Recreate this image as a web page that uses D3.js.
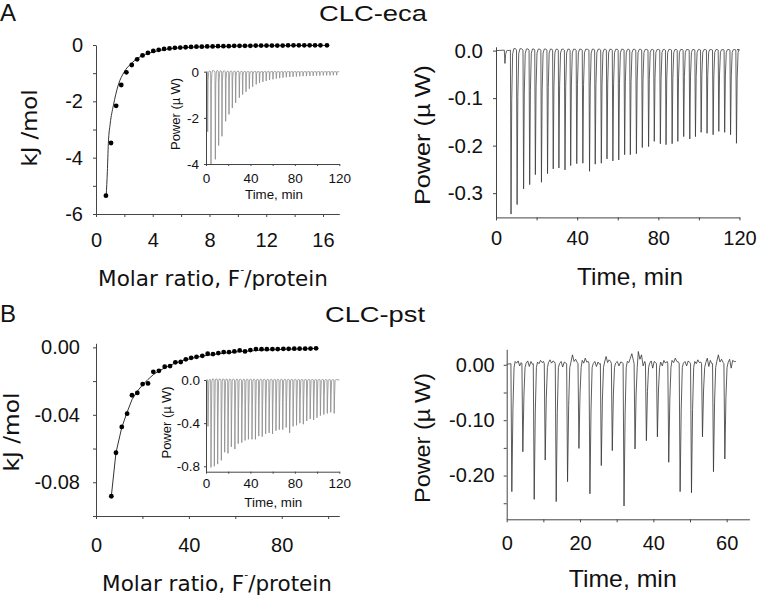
<!DOCTYPE html>
<html>
<head>
<meta charset="utf-8">
<script src="https://cdn.jsdelivr.net/npm/d3@7"></script>
<style>
  body { margin: 0; background: #fff; }
  svg { display: block; }
</style>
</head>
<body>
<div id="figure"></div>
<script>
var svgWidth = 757;
var svgHeight = 597;

// ---------- A: CLC-eca ----------
// binding isotherm (dots) and fit
var ecaRatio = [0.70, 1.06, 1.42, 1.78, 2.14, 2.52, 2.90, 3.28, 3.66, 4.04, 4.42, 4.80, 5.18, 5.56,
  5.94, 6.32, 6.70, 7.08, 7.46, 7.84, 8.22, 8.60, 8.98, 9.36, 9.74, 10.12, 10.50, 10.88, 11.26,
  11.64, 12.02, 12.40, 12.78, 13.16, 13.54, 13.92, 14.30, 14.68, 15.06, 15.44, 15.82, 16.28];
var ecaHeat = [-5.35, -3.48, -2.16, -1.42, -0.97, -0.71, -0.51, -0.37, -0.28, -0.21, -0.17, -0.14,
  -0.12, -0.10, -0.09, -0.08, -0.07, -0.06, -0.06, -0.05, -0.05, -0.04, -0.04, -0.04, -0.03, -0.03,
  -0.03, -0.03, -0.02, -0.02, -0.02, -0.02, -0.02, -0.02, -0.01, -0.01, -0.01, -0.01, -0.01, -0.01,
  -0.01, -0.01];
var ecaFitRatio = [0.72, 0.80, 0.87, 1.00, 1.22, 1.57, 1.97, 2.50, 3.00, 3.50, 4.00, 5.00, 6.00, 8.00, 10.0, 12.0, 14.0, 16.3];
var ecaFitHeat = [-5.35, -4.50, -3.50, -2.80, -2.16, -1.42, -0.97, -0.65, -0.45, -0.33, -0.25, -0.15, -0.10, -0.06, -0.04, -0.03, -0.02, -0.015];

// inset: raw power
var ecaInsetTime = [1.5, 4.5, 8.4, 11.4, 14.4, 17.7, 20.7, 23.7, 26.7, 30.0, 33.0, 36.0, 39.0, 42.0,
  45.2, 48.2, 51.2, 54.2, 57.2, 60.3, 63.3, 66.3, 69.3, 72.3, 75.4, 78.4, 81.4, 84.4, 87.4, 90.5,
  93.5, 96.5, 99.5, 102.5, 105.6, 108.6, 111.6, 114.6, 117.6];
var ecaInsetPower = [-2.6, -4.0, -3.8, -3.2, -2.8, -2.15, -1.85, -1.57, -1.35, -1.13, -0.99, -0.87,
  -0.74, -0.65, -0.55, -0.49, -0.44, -0.40, -0.36, -0.33, -0.30, -0.28, -0.26, -0.24, -0.23, -0.22,
  -0.21, -0.20, -0.19, -0.19, -0.18, -0.18, -0.17, -0.17, -0.16, -0.16, -0.16, -0.15, -0.15];

// right: power trace peaks
var ecaPeakTime = [4.4, 7.4, 10.4, 13.6, 16.6, 19.4, 22.4, 25.4, 28.2, 31.0, 34.0, 36.8, 39.8, 42.8,
  46.1, 48.9, 51.9, 54.7, 57.6, 60.5, 63.4, 66.2, 69.2, 72.1, 75.2, 78.0, 81.0, 83.8, 86.8, 89.6,
  92.5, 95.5, 98.3, 101.1, 104.0, 107.0, 109.8, 112.7, 115.6, 118.5];
var ecaPeakPower = [-0.027, -0.344, -0.324, -0.291, -0.282, -0.261, -0.277, -0.259, -0.249, -0.247,
  -0.251, -0.242, -0.238, -0.237, -0.254, -0.239, -0.237, -0.228, -0.232, -0.230, -0.219, -0.219,
  -0.217, -0.204, -0.202, -0.191, -0.196, -0.198, -0.196, -0.191, -0.181, -0.186, -0.181, -0.172,
  -0.174, -0.177, -0.170, -0.172, -0.177, -0.195];

// ---------- B: CLC-pst ----------
var pstRatio = [6.6, 8.6, 11.1, 13.4, 15.5, 17.8, 20.1, 22.4, 24.7, 27.1, 29.6, 31.9, 34.2, 36.5,
  38.7, 41.0, 43.3, 45.8, 48.1, 50.4, 52.7, 55.0, 57.3, 59.6, 61.9, 64.2, 66.5, 68.9, 71.3, 73.6,
  76.0, 78.3, 80.7, 83.0, 85.4, 87.7, 90.1, 92.4, 94.8];
var pstHeat = [-0.0883, -0.0625, -0.0472, -0.0393, -0.0284, -0.0270, -0.0218, -0.0214, -0.0145,
  -0.0139, -0.0115, -0.0111, -0.0089, -0.0087, -0.0071, -0.0062, -0.0056, -0.0050, -0.0038, -0.0040,
  -0.0034, -0.0028, -0.0028, -0.0024, -0.0018, -0.0024, -0.0016, -0.0010, -0.0011, -0.0011, -0.0010,
  -0.0010, -0.0009, -0.0009, -0.0008, -0.0008, -0.0008, -0.0007, -0.0006];
var pstFitRatio = [6.6, 8.6, 11.1, 13.4, 15.5, 17.8, 20.1, 22.4, 24.7, 27.1, 29.6, 34.2, 38.7, 45.8, 52.7, 61.9, 72.0, 83.9, 94.8];
var pstFitHeat = [-0.0883, -0.0625, -0.0475, -0.0385, -0.0310, -0.0260, -0.0222, -0.0190, -0.0162,
  -0.0140, -0.0122, -0.0093, -0.0073, -0.0052, -0.0038, -0.0025, -0.0016, -0.0011, -0.0007];

var pstInsetTime = [1.8, 4.5, 7.5, 10.5, 13.8, 16.8, 19.8, 22.8, 26.0, 29.0, 32.2, 35.2, 38.2, 41.4,
  44.5, 47.5, 50.6, 53.7, 56.8, 59.9, 63.0, 66.0, 69.1, 72.2, 75.3, 78.4, 81.5, 84.5, 87.6, 90.7,
  93.8, 96.9, 99.9, 103.0, 106.1, 109.2, 112.3, 115.4];
var pstInsetPower = [-0.43, -0.81, -0.80, -0.78, -0.745, -0.67, -0.68, -0.62, -0.64, -0.59, -0.58,
  -0.56, -0.55, -0.55, -0.55, -0.52, -0.525, -0.50, -0.49, -0.50, -0.47, -0.46, -0.46, -0.44, -0.49,
  -0.43, -0.42, -0.40, -0.41, -0.38, -0.36, -0.37, -0.35, -0.33, -0.32, -0.31, -0.30, -0.31];

var pstPeakTime = [1.4, 4.4, 7.5, 10.5, 13.5, 16.6, 19.7, 22.7, 25.8, 28.8, 32.0, 35.0, 38.1, 41.1,
  44.2, 47.3, 50.4, 53.4, 56.4, 59.5];
var pstPeakPower = [-0.229, -0.157, -0.243, -0.172, -0.247, -0.211, -0.151, -0.233, -0.182, -0.155,
  -0.255, -0.152, -0.137, -0.130, -0.176, -0.229, -0.231, -0.130, -0.193, -0.170];
// baseline wiggles after each peak (µW)
var pstNoise = [
  [0.006, 0.003, 0.007, -0.002, 0.004],
  [0.003, 0.007, -0.003, 0.006, 0.001],
  [0.005, 0.002, 0.008, 0.004, 0.006],
  [0.004, 0.009, 0.003, 0.007, 0.005],
  [0.002, 0.006, -0.004, 0.005, 0.003],
  [0.004, 0.018, 0.006, 0.010, 0.004],
  [0.008, 0.003, 0.012, 0.005, 0.006],
  [0.002, 0.006, -0.003, 0.005, 0.001],
  [0.005, 0.015, 0.004, 0.009, 0.006],
  [0.003, 0.006, -0.002, 0.005, 0.004],
  [0.006, 0.004, 0.012, 0.020, 0.008],
  [0.024, 0.010, 0.018, -0.002, 0.006],
  [0.003, 0.007, -0.006, 0.006, 0.004],
  [0.005, -0.002, 0.008, 0.003, 0.006],
  [0.008, 0.004, 0.012, 0.006, 0.005],
  [0.003, 0.006, -0.002, 0.007, 0.004],
  [0.006, 0.002, 0.009, 0.004, 0.005],
  [0.004, 0.012, -0.003, 0.008, 0.002],
  [0.006, 0.018, 0.005, 0.010, 0.004],
  [0.004, 0.010, -0.006, 0.008, 0.006]
];
var pstTraceEnd = 62.5;

// ticks
var ecaRatioTicks = [0, 2, 4, 6, 8, 10, 12, 14, 16];
var ecaRatioLabels = [0, 4, 8, 12, 16];
var ecaHeatTicks = [0, -1, -2, -3, -4, -5, -6];
var ecaHeatLabels = [0, -2, -4, -6];
var insetTimeTicks = [0, 20, 40, 60, 80, 100, 120];
var insetTimeLabels = [0, 40, 80, 120];
var ecaInsetLabels = [0, -2, -4];
var ecaTimeTicks = [0, 20, 40, 60, 80, 100, 120];
var ecaTimeLabels = [0, 40, 80, 120];
var ecaPowerLabels = [0, -0.1, -0.2, -0.3];
var pstRatioTicks = [0, 20, 40, 60, 80, 100];
var pstRatioLabels = [0, 40, 80];
var pstHeatTicks = [0, -0.02, -0.04, -0.06, -0.08, -0.1];
var pstHeatLabels = [0, -0.04, -0.08];
var pstInsetLabels = [0, -0.4, -0.8];
var pstTimeTicks = [0, 10, 20, 30, 40, 50, 60];
var pstTimeLabels = [0, 20, 40, 60];
var pstPowerTicks = [0, -0.05, -0.1, -0.15, -0.2, -0.25];
var pstPowerLabels = [0, -0.1, -0.2];

var svg = d3.select("#figure")
  .append("svg")
  .attr("width", svgWidth)
  .attr("height", svgHeight);

var tickFont = "Liberation Sans, Arial, sans-serif";
var titleFont = "DejaVu Sans, Verdana, sans-serif";
var arialFont = "Liberation Sans, Arial, sans-serif";

// draws an axis with minor ticks, labels only on the listed values
function drawAxis(axisFn, scale, ticks, labels, fmt, opts) {
  var axis = axisFn(scale)
    .tickValues(ticks)
    .tickSizeInner(opts.tick)
    .tickSizeOuter(0)
    .tickPadding(opts.pad)
    .tickFormat(function(d) {
      return labels.some(function(l) { return Math.abs(l - d) < 1e-9; }) ? fmt(d) : "";
    });
  var g = svg.append("g")
    .attr("transform", opts.translate)
    .call(axis)
    .attr("font-family", opts.font || tickFont)
    .attr("font-size", opts.size);
  g.select(".domain").attr("stroke", "#444").attr("stroke-width", 1);
  g.selectAll(".tick line").attr("stroke", "#444");
  g.selectAll(".tick text").attr("fill", "#111");
  return g;
}

function addText(x, y, txt, size, font, opts) {
  opts = opts || {};
  var t = svg.append("text")
    .attr("x", x)
    .attr("y", y)
    .attr("font-family", font)
    .attr("font-size", size)
    .attr("fill", "#111")
    .attr("text-anchor", opts.anchor || "middle");
  if (opts.rotate) t.attr("transform", "rotate(-90," + x + "," + y + ")");
  if (opts.length) t.attr("textLength", opts.length).attr("lengthAdjust", "spacingAndGlyphs");
  t.text(txt);
  return t;
}

function powerLabel(x, y, size, length) {
  var t = svg.append("text")
    .attr("x", x)
    .attr("y", y)
    .attr("transform", "rotate(-90," + x + "," + y + ")")
    .attr("font-family", arialFont)
    .attr("font-size", size)
    .attr("fill", "#111")
    .attr("text-anchor", "middle")
    .attr("textLength", length)
    .attr("lengthAdjust", "spacingAndGlyphs");
  t.append("tspan").text("Power (µ");
  t.append("tspan").attr("dx", size * 0.25).text("W)");
}

function molarLabel(x, y) {
  var t = svg.append("text")
    .attr("x", x)
    .attr("y", y)
    .attr("font-family", titleFont)
    .attr("font-size", 21.5)
    .attr("fill", "#111")
    .attr("text-anchor", "middle");
  t.append("tspan").text("Molar ratio, F");
  t.append("tspan").attr("font-size", 11).attr("dy", -13).text("-");
  t.append("tspan").attr("dy", 13).text("/protein");
}

var fmt0 = function(d) { return String(d); };
var fmt1 = function(d) { return d.toFixed(1); };
var fmt2 = function(d) { return d.toFixed(2); };

// build a spike trace from peak times and depths
function spikeTrace(times, depths, start, end, shoulder) {
  var pts = [[start, 0]];
  times.forEach(function(t, i) {
    var d = depths[i];
    pts.push([t - 0.3, 0.001]);
    pts.push([t, d]);
    pts.push([t + 0.35, d * shoulder]);
    pts.push([t + 0.8, d * 0.02]);
    var next = i < times.length - 1 ? times[i + 1] : end;
    pts.push([t + 1.4, Math.abs(d) * 0.012]);
    pts.push([Math.min(next - 0.7, t + 2.2), Math.abs(d) * 0.012]);
  });
  pts.push([end, 0]);
  return pts;
}

// ===================== Panel A left =====================
var xA = d3.scaleLinear().domain([0, 17.15]).range([96, 339.3]);
var yA = d3.scaleLinear().domain([-6, 0]).range([214, 45]);

drawAxis(d3.axisBottom, xA, ecaRatioTicks, ecaRatioLabels, fmt0,
  { translate: "translate(0,214)", tick: 3, pad: 16, size: 20 });
drawAxis(d3.axisLeft, yA, ecaHeatTicks, ecaHeatLabels, fmt0,
  { translate: "translate(96,0)", tick: 3, pad: 10, size: 20 });

var ecaFit = ecaFitRatio.map(function(r, i) { return [r, ecaFitHeat[i]]; });
svg.append("path")
  .datum(ecaFit)
  .attr("fill", "none")
  .attr("stroke", "#333")
  .attr("stroke-width", 1)
  .attr("d", d3.line().x(d => xA(d[0])).y(d => yA(d[1])).curve(d3.curveMonotoneX));

svg.append("g").selectAll("circle")
  .data(ecaRatio)
  .enter()
  .append("circle")
  .attr("cx", d => xA(d))
  .attr("cy", (d, i) => yA(ecaHeat[i]))
  .attr("r", 2.4)
  .attr("fill", "#000");

// inset A
var xAi = d3.scaleLinear().domain([0, 120]).range([206, 339.3]);
var yAi = d3.scaleLinear().domain([-4, 0]).range([164, 71.7]);

var ecaInsetTrace = spikeTrace(ecaInsetTime, ecaInsetPower, 0, 120, 0.15);
svg.append("path")
  .datum(ecaInsetTrace)
  .attr("fill", "none")
  .attr("stroke", "#8a8a8a")
  .attr("stroke-width", 0.8)
  .attr("d", d3.line().x(d => xAi(d[0])).y(d => yAi(Math.max(-4, d[1]))));

drawAxis(d3.axisBottom, xAi, insetTimeTicks, insetTimeLabels, fmt0,
  { translate: "translate(0,164)", tick: 2, pad: 7, size: 13.5 });
drawAxis(d3.axisLeft, yAi, ecaInsetLabels, ecaInsetLabels, fmt0,
  { translate: "translate(206,0)", tick: 2, pad: 5, size: 13.5 });

powerLabel(180, 114, 13.5, 72);
addText(274, 199, "Time, min", 13.5, arialFont, { length: 58 });

molarLabel(213, 286);
addText(37, 128, "kJ /mol", 22, titleFont, { rotate: true, length: 77 });

// ===================== Panel A right =====================
var xAr = d3.scaleLinear().domain([0, 120]).range([496, 739.5]);
var yAr = d3.scaleLinear().domain([-0.351, 0.008]).range([217.4, 46.8]);

var ecaTrace = spikeTrace(ecaPeakTime, ecaPeakPower, 0, 119.5, 0.3);
svg.append("path")
  .datum(ecaTrace)
  .attr("fill", "none")
  .attr("stroke", "#3a3a3a")
  .attr("stroke-width", 0.8)
  .attr("d", d3.line().x(d => xAr(d[0])).y(d => yAr(d[1])));

drawAxis(d3.axisBottom, xAr, ecaTimeTicks, ecaTimeLabels, fmt0,
  { translate: "translate(0,217.4)", tick: 3, pad: 10, size: 20 });
drawAxis(d3.axisLeft, yAr, ecaPowerLabels, ecaPowerLabels, fmt1,
  { translate: "translate(496,0)", tick: 3, pad: 10, size: 20.5 });

powerLabel(430, 135, 22, 140);
addText(630, 285, "Time, min", 24, arialFont, { length: 106 });

// ===================== Panel B left =====================
var xB = d3.scaleLinear().domain([0, 104.8]).range([96, 339.3]);
var yB = d3.scaleLinear().domain([-0.1, 0.0024]).range([516, 343.3]);

drawAxis(d3.axisBottom, xB, pstRatioTicks, pstRatioLabels, fmt0,
  { translate: "translate(0,516)", tick: 3, pad: 19, size: 20 });
drawAxis(d3.axisLeft, yB, pstHeatTicks, pstHeatLabels, fmt2,
  { translate: "translate(96,0)", tick: 3, pad: 13, size: 20 });

var pstFit = pstFitRatio.map(function(r, i) { return [r, pstFitHeat[i]]; });
svg.append("path")
  .datum(pstFit)
  .attr("fill", "none")
  .attr("stroke", "#333")
  .attr("stroke-width", 1)
  .attr("d", d3.line().x(d => xB(d[0])).y(d => yB(d[1])));

svg.append("g").selectAll("circle")
  .data(pstRatio)
  .enter()
  .append("circle")
  .attr("cx", d => xB(d))
  .attr("cy", (d, i) => yB(pstHeat[i]))
  .attr("r", 2.4)
  .attr("fill", "#000");

// inset B
var xBi = d3.scaleLinear().domain([0, 120]).range([206, 339.3]);
var yBi = d3.scaleLinear().domain([-0.85, 0]).range([471.7, 380]);

var pstInsetTrace = spikeTrace(pstInsetTime, pstInsetPower, 0, 120, 0.45);
svg.append("path")
  .datum(pstInsetTrace)
  .attr("fill", "none")
  .attr("stroke", "#8a8a8a")
  .attr("stroke-width", 0.8)
  .attr("d", d3.line().x(d => xBi(d[0])).y(d => yBi(d[1])));

drawAxis(d3.axisBottom, xBi, insetTimeTicks, insetTimeLabels, fmt0,
  { translate: "translate(0,471.7)", tick: 2, pad: 5, size: 13.5 });
drawAxis(d3.axisLeft, yBi, pstInsetLabels, pstInsetLabels, fmt1,
  { translate: "translate(206,0)", tick: 2, pad: 4, size: 13.5 });

powerLabel(171, 422.5, 13.5, 72);
addText(273.3, 507.3, "Time, min", 13.5, arialFont, { length: 58 });

molarLabel(217, 591);
addText(19, 432, "kJ /mol", 22, titleFont, { rotate: true, length: 79 });

// ===================== Panel B right =====================
var xBr = d3.scaleLinear().domain([0, 66.2]).range([506.7, 749.4]);
var yBr = d3.scaleLinear().domain([-0.279, 0.028]).range([519.3, 349.3]);

// trace: peaks plus typed baseline wiggles
var pstTrace = [[0, 0.001]];
pstPeakTime.forEach(function(t, i) {
  var d = pstPeakPower[i];
  pstTrace.push([t - 0.25, 0.002]);
  pstTrace.push([t, d]);
  pstTrace.push([t + 0.3, d * 0.35]);
  pstTrace.push([t + 0.6, -0.005]);
  var next = i < pstPeakTime.length - 1 ? pstPeakTime[i + 1] : pstTraceEnd;
  var noise = pstNoise[i];
  var a = t + 0.9, b = next - 0.45;
  noise.forEach(function(v, j) {
    pstTrace.push([a + (b - a) * j / (noise.length - 1), v]);
  });
});
pstTrace.push([pstTraceEnd, 0.006]);

svg.append("path")
  .datum(pstTrace)
  .attr("fill", "none")
  .attr("stroke", "#333")
  .attr("stroke-width", 0.8)
  .attr("d", d3.line().x(d => xBr(d[0])).y(d => yBr(d[1])));

drawAxis(d3.axisBottom, xBr, pstTimeTicks, pstTimeLabels, fmt0,
  { translate: "translate(0,519.3)", tick: 3, pad: 14, size: 20 });
drawAxis(d3.axisLeft, yBr, pstPowerTicks, pstPowerLabels, fmt2,
  { translate: "translate(506.7,0)", tick: 3, pad: 9, size: 20 });

powerLabel(430, 438, 22, 130);
addText(622.7, 586.7, "Time, min", 24, arialFont, { length: 108 });

// ===================== titles =====================
addText(0, 20.5, "A", 24, arialFont, { anchor: "start" });
addText(373, 20.5, "CLC-eca", 22.5, arialFont, { length: 108 });
addText(0, 321.5, "B", 24, arialFont, { anchor: "start" });
addText(375, 322, "CLC-pst", 22.5, arialFont, { length: 100 });
</script>
</body>
</html>
